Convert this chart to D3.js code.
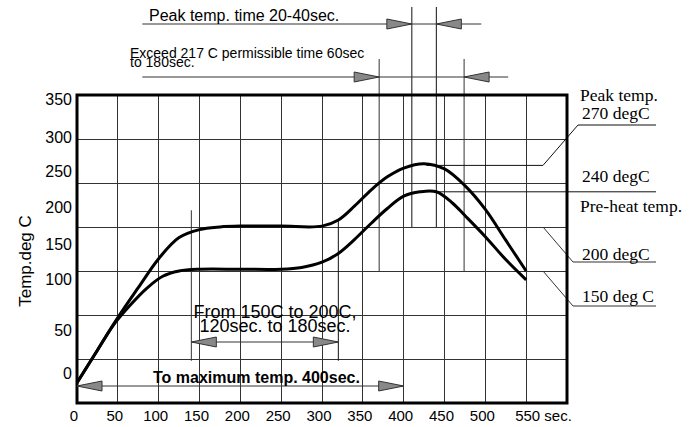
<!DOCTYPE html>
<meta charset="utf-8">
<title>Reflow profile</title>
<script src="https://d3js.org/d3.v7.min.js"></script>
<style>
  body { margin: 0; background: #fff; }
  text { font-family: "Liberation Sans", Arial, sans-serif; fill: #000; }
  .serif { font-family: "Liberation Serif", "Times New Roman", serif; }
</style>
<body>
<script>

// ---- data ----
var upperTimes = [0, 25, 50, 75, 100, 125, 150, 175, 200, 250, 300, 320, 340, 360, 380, 400, 425, 450, 475, 500, 525, 550];
var upperTemps = [23, 60, 97, 131, 164, 188, 197, 200, 201, 201, 201, 208, 224, 242, 257, 267, 272, 266, 247, 220, 185, 150];

var lowerTimes = [0, 25, 45, 65, 85, 105, 125, 150, 200, 250, 275, 300, 320, 340, 360, 380, 400, 420, 440, 460, 475, 500, 525, 550];
var lowerTemps = [23, 60, 89, 111, 130, 144, 150, 152, 152, 152, 154, 160, 170, 186, 204, 221, 235, 240, 240, 227, 213, 189, 163, 140];

var xTicks = [0, 50, 100, 150, 200, 250, 300, 350, 400, 450, 500, 550];
var yTicks = [0, 50, 100, 150, 200, 250, 300, 350];

// marker times (sec) for the dimension lines
var peakWindow = [410, 440];
var exceedWindow = [370, 474];
var soakWindow = [140, 320];
var maxTime = 400;

// reference temperatures on the right
var peakRef = 270, peakRefLow = 240;
var preheatHigh = 200, preheatLow = 150;

var w = 698
var h = 427

var svg = d3.select("body")
      .append("svg")
      .attr("width", w)
      .attr("height", h);

var x = d3.scaleLinear().domain([0, 600]).range([77, 567]);
var y = d3.scaleLinear().domain([0, 350]).range([403, 95]);

var lineCol = "#333";

// grid
svg.append("g")
  .selectAll("line")
  .data(xTicks.slice(1))
  .enter()
  .append("line")
    .attr("x1", function(d) { return x(d); })
    .attr("x2", function(d) { return x(d); })
    .attr("y1", y(350))
    .attr("y2", y(0))
    .attr("stroke", lineCol)
    .attr("shape-rendering", "crispEdges");

svg.append("g")
  .selectAll("line")
  .data(yTicks.slice(1, -1))
  .enter()
  .append("line")
    .attr("x1", x(0))
    .attr("x2", x(600))
    .attr("y1", function(d) { return y(d); })
    .attr("y2", function(d) { return y(d); })
    .attr("stroke", lineCol)
    .attr("shape-rendering", "crispEdges");

function seg(x1, y1, x2, y2, col) {
  svg.append("line")
    .attr("x1", x1).attr("y1", y1)
    .attr("x2", x2).attr("y2", y2)
    .attr("stroke", col || lineCol)
    .attr("stroke-width", 1);
}

function arrowHead(tip, yy, dir) {
  var b = tip - dir * 25;
  svg.append("path")
    .attr("d", "M" + tip + "," + yy + "L" + b + "," + (yy - 5) + "L" + b + "," + (yy + 5) + "Z")
    .attr("fill", "#888")
    .attr("stroke", "#333");
}

// vertical marker lines
peakWindow.forEach(function(t) { seg(x(t), 7, x(t), y(preheatHigh), "#111"); });
exceedWindow.forEach(function(t) { seg(x(t), 59, x(t), y(preheatLow)); });
seg(x(soakWindow[0]), y(219), x(soakWindow[0]), y(48));
seg(x(soakWindow[1]), y(209), x(soakWindow[1]), y(48), "#111");

// reference lines to the right-hand labels
seg(x(428), y(peakRef), 543, y(peakRef), "#111");
seg(543, y(peakRef), 578, 125, "#111");
seg(578, 125, 656, 125, "#111");
seg(x(441), y(peakRefLow), 656, y(peakRefLow), "#111");
seg(543, y(preheatHigh), 573, 262);
seg(573, 262, 656, 262);
seg(543, y(preheatLow), 573, 306);
seg(573, 306, 656, 306);

// curves
var line = d3.line()
  .x(function(d) { return x(d[0]); })
  .y(function(d) { return y(d[1]); })
  .curve(d3.curveCatmullRom.alpha(0.5));

svg.append("path")
  .datum(d3.zip(upperTimes, upperTemps))
  .attr("d", line)
  .attr("fill", "none")
  .attr("stroke", "#000")
  .attr("stroke-width", 3);

svg.append("path")
  .datum(d3.zip(lowerTimes, lowerTemps))
  .attr("d", line)
  .attr("fill", "none")
  .attr("stroke", "#000")
  .attr("stroke-width", 3);

// frame
svg.append("rect")
  .attr("x", x(0))
  .attr("y", y(350))
  .attr("width", x(600) - x(0))
  .attr("height", y(0) - y(350))
  .attr("fill", "none")
  .attr("stroke", "#000")
  .attr("stroke-width", 3);

// dimension arrows
seg(x(80), 24, x(495), 24);
arrowHead(x(peakWindow[0]), 24, 1);
arrowHead(x(peakWindow[1]), 24, -1);

seg(x(80), 77, x(528), 77);
arrowHead(x(exceedWindow[0]), 77, 1);
arrowHead(x(exceedWindow[1]), 77, -1);

seg(x(soakWindow[0]), 342, x(soakWindow[1]), 342);
arrowHead(x(soakWindow[0]), 342, -1);
arrowHead(x(soakWindow[1]), 342, 1);

seg(x(0), 386, x(maxTime), 386);
arrowHead(x(0), 386, -1);
arrowHead(x(maxTime), 386, 1);

// axis labels
var yLabelNudge = [-30, -29, -36, -27, -20, -12, -2, 4];
svg.append("g")
  .selectAll("text")
  .data(yTicks)
  .enter()
  .append("text")
    .attr("x", 72)
    .attr("y", function(d, i) { return y(d) + yLabelNudge[i]; })
    .attr("dy", "0.36em")
    .attr("text-anchor", "end")
    .style("font-size", "16px")
    .text(function(d) { return d; });

svg.append("g")
  .selectAll("text")
  .data(xTicks)
  .enter()
  .append("text")
    .attr("x", function(d, i) { return i == xTicks.length - 1 ? x(d) - 11 : x(d) - 3; })
    .attr("y", 421)
    .attr("text-anchor", function(d, i) { return i == xTicks.length - 1 ? "start" : "middle"; })
    .style("font-size", "15px")
    .text(function(d, i) { return i == xTicks.length - 1 ? d + " sec." : d; });

svg.append("text")
  .attr("transform", "translate(31,261) rotate(-90)")
  .attr("text-anchor", "middle")
  .style("font-size", "17px")
  .text("Temp.deg C");

// annotation texts
svg.append("text").attr("x", 149).attr("y", 21).style("font-size", "16px")
  .text("Peak temp. time 20-40sec.");
svg.append("text").attr("x", 130).attr("y", 58).style("font-size", "14px")
  .text("Exceed 217 C permissible time 60sec");
svg.append("text").attr("x", 130).attr("y", 67).style("font-size", "14px")
  .text("to 180sec.");

svg.append("text").attr("x", 275).attr("y", 318).attr("text-anchor", "middle").style("font-size", "18px")
  .text("From 150C to 200C,");
svg.append("text").attr("x", 275).attr("y", 332).attr("text-anchor", "middle").style("font-size", "18px")
  .text("120sec. to 180sec.");

svg.append("text").attr("x", 153).attr("y", 383).style("font-size", "16px").style("font-weight", "bold")
  .text("To maximum temp. 400sec.");

var rightLabels = [
  ["Peak temp.", 580, 101],
  ["270 degC", 582, 119],
  ["240 degC", 582, 182],
  ["Pre-heat temp.", 580, 212],
  ["200 degC", 582, 260],
  ["150 deg C", 582, 302]
];
svg.append("g")
  .selectAll("text")
  .data(rightLabels)
  .enter()
  .append("text")
    .attr("class", "serif")
    .attr("x", function(d) { return d[1]; })
    .attr("y", function(d) { return d[2]; })
    .style("font-size", "17.5px")
    .text(function(d) { return d[0]; });

</script>
</body>
